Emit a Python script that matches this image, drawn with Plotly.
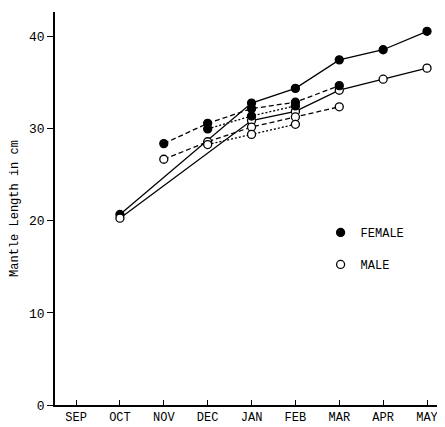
import plotly.graph_objects as go

months = ["SEP", "OCT", "NOV", "DEC", "JAN", "FEB", "MAR", "APR", "MAY"]

# Cohort first sampled in October (solid lines)
oct_months = ["OCT", "JAN", "FEB", "MAR", "APR", "MAY"]
oct_female = [20.7, 32.8, 34.4, 37.5, 38.6, 40.6]
oct_male = [20.3, 30.9, 31.9, 34.2, 35.4, 36.6]

# Cohort first sampled in November (dashed lines)
nov_months = ["NOV", "DEC", "JAN", "FEB", "MAR"]
nov_female = [28.4, 30.6, 32.2, 32.9, 34.7]
nov_male = [26.7, 28.6, 30.2, 31.3, 32.4]

# Cohort first sampled in December (dotted lines)
dec_months = ["DEC", "JAN", "FEB"]
dec_female = [30.0, 31.4, 32.5]
dec_male = [28.3, 29.4, 30.5]

idx = {m: i for i, m in enumerate(months)}
FONT = "Liberation Mono"

fig = go.Figure()

def add(ms, vals, dash, filled):
    fig.add_trace(go.Scatter(
        x=[idx[m] for m in ms], y=vals, mode="lines+markers",
        line=dict(color="black", width=1.3, dash=dash),
        marker=dict(size=8, symbol="circle",
                    color="black" if filled else "white",
                    line=dict(color="black", width=1.3)),
        showlegend=False, cliponaxis=False))

add(oct_months, oct_female, "solid", True)
add(oct_months, oct_male, "solid", False)
add(nov_months, nov_female, "5px,3px", True)
add(nov_months, nov_male, "5px,3px", False)
add(dec_months, dec_female, "2px,2px", True)
add(dec_months, dec_male, "2px,2px", False)

# legend entries
fig.add_trace(go.Scatter(x=[None], y=[None], mode="markers", name="FEMALE",
                         legendgroup="f",
                         marker=dict(size=8, color="black", line=dict(color="black", width=1.3))))
fig.add_trace(go.Scatter(x=[None], y=[None], mode="markers", name="MALE",
                         legendgroup="m",
                         marker=dict(size=8, color="white", line=dict(color="black", width=1.3))))

fig.update_layout(
    width=437, height=419,
    margin=dict(l=47, r=0, t=4, b=22),
    paper_bgcolor="white", plot_bgcolor="white",
    font=dict(family=FONT, color="black", size=12),
    legend=dict(x=0.681, y=0.476, xanchor="left", yanchor="top",
                bgcolor="rgba(0,0,0,0)", font=dict(family=FONT, size=12),
                tracegroupgap=13, traceorder="grouped", itemwidth=30),
    xaxis=dict(range=[-0.48, 8.41], tickvals=list(range(len(months))), ticktext=months,
               showgrid=False, zeroline=False, showline=True, linecolor="black", linewidth=1.5,
               ticks="inside", ticklen=5, tickcolor="black", tickwidth=1.3,
               tickfont=dict(family=FONT, size=12)),
    yaxis=dict(range=[0, 42.7], tickvals=[0, 10, 20, 30, 40],
               showgrid=False, zeroline=False, showline=True, linecolor="black", linewidth=1.5,
               ticks="outside", ticklen=6, tickcolor="black", tickwidth=1.3,
               tickfont=dict(family=FONT, size=13),
               title=dict(text="Mantle Length in cm", font=dict(family=FONT, size=12), standoff=12)),
)

fig.write_html("out.html")
